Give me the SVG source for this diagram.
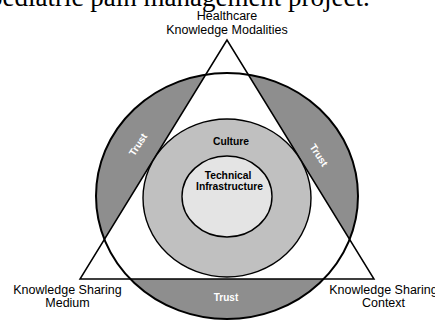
<svg xmlns="http://www.w3.org/2000/svg" width="435" height="320" viewBox="0 0 435 320">
<style>
.lbl{font-family:"Liberation Sans",Arial,sans-serif;font-size:12.5px;fill:#000;text-anchor:middle}
.in{font-family:"Liberation Sans",Arial,sans-serif;font-size:10.3px;font-weight:bold;fill:#000;text-anchor:middle}
.tr{font-family:"Liberation Sans",Arial,sans-serif;font-size:10px;font-weight:bold;fill:#fff;text-anchor:middle}
.ln{fill:none;stroke:#000}
</style>
<rect width="435" height="320" fill="#fff"/>
<text x="-11" y="6" font-family="Liberation Serif,'Times New Roman',serif" font-size="27" fill="#000">pediatric pain management project.</text>
<g id="trust-ring">
<ellipse cx="227" cy="196" rx="131" ry="123" fill="#8e8e8e"/>
</g>
<g id="triangle-fill">
<polygon points="227,40 80,279 374,279" fill="#fff"/>
</g>
<g id="connectors">
<ellipse class="ln" cx="227" cy="196" rx="131" ry="123" stroke-width="2"/>
<polygon class="ln" points="227,40 80,279 374,279" stroke-width="1.5"/>
</g>
<g id="culture">
<ellipse cx="227" cy="198" rx="84" ry="79" fill="#c0c0c0" stroke="#000" stroke-width="1.4"/>
<text class="in" x="231" y="145">Culture</text>
</g>
<g id="technical-infrastructure">
<ellipse cx="227" cy="196.5" rx="45" ry="40.5" fill="#e4e4e4" stroke="#000" stroke-width="1.4"/>
<text class="in" x="228" y="179">Technical</text>
<text class="in" x="229.5" y="190">Infrastructure</text>
</g>
<g id="trust-labels">
<text class="tr" x="226" y="301">Trust</text>
<text class="tr" transform="translate(141,146.5) rotate(-57)">Trust</text>
<text class="tr" transform="translate(316,157) rotate(57)">Trust</text>
</g>
<g id="healthcare-knowledge-modalities">
<text class="lbl" x="227" y="20">Healthcare</text>
<text class="lbl" x="227" y="33.5">Knowledge Modalities</text>
</g>
<g id="knowledge-sharing-medium">
<text class="lbl" x="67.5" y="294">Knowledge Sharing</text>
<text class="lbl" x="67.5" y="306.5">Medium</text>
</g>
<g id="knowledge-sharing-context">
<text class="lbl" x="383.5" y="294">Knowledge Sharing</text>
<text class="lbl" x="383.5" y="306.5">Context</text>
</g>
</svg>
